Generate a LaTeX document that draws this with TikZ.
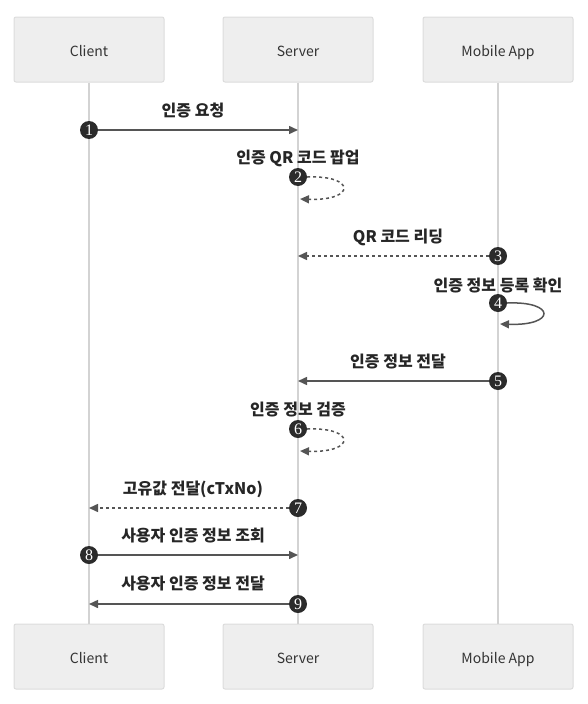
\documentclass[tikz,border=0pt]{standalone}
\usepackage{fontspec}
\setmainfont{Liberation Serif}
\newfontfamily\krfont{Noto Sans CJK KR}
\usetikzlibrary{arrows.meta}
\definecolor{boxfill}{HTML}{EEEEEE}
\definecolor{boxline}{HTML}{DCDCDC}
\definecolor{lifeline}{HTML}{D3D3D3}
\definecolor{msgline}{HTML}{555555}
\definecolor{stepfill}{HTML}{2B2B2B}

\begin{document}
\begin{tikzpicture}[
  x=1pt, y=-1pt,
  >={Triangle[length=9pt,width=8pt]},
  actor/.style={
    draw=boxline,
    line width=1pt,
    rounded corners=2pt,
    fill=boxfill,
    minimum width=150pt,
    minimum height=65pt,
    text height=13pt,
    text depth=0pt,
    font=\krfont\fontsize{14pt}{16pt}\selectfont,
    text=black!80
  },
  life/.style={draw=lifeline, line width=2pt},
  num/.style={
    circle,
    fill=stepfill,
    minimum size=18pt,
    inner sep=0pt,
    text=white,
    font=\fontsize{16pt}{16pt}\selectfont
  },
  lbl/.style={
    font=\krfont\bfseries\fontsize{16pt}{18pt}\selectfont,
    text=black!85,
    inner sep=0pt
  },
  msg/.style={->, draw=msgline, line width=1.5pt},
  reply/.style={msg, dash pattern=on 3pt off 3pt}
]
\useasboundingbox (0,0) rectangle (587,704);

% participants
\node[actor] (clientTop) at (89,49.5) {Client};
\node[actor] (serverTop) at (298,49.5) {Server};
\node[actor] (appTop) at (498,49.5) {Mobile App};
\node[actor] (clientBot) at (89,656.5) {Client};
\node[actor] (serverBot) at (298,656.5) {Server};
\node[actor] (appBot) at (498,656.5) {Mobile App};

\draw[life] (clientTop.south) -- (clientBot.north);
\draw[life] (serverTop.south) -- (serverBot.north);
\draw[life] (appTop.south) -- (appBot.north);

% end points on the lifelines
\coordinate (s1) at (298,130);
\coordinate (s2) at (300,199);
\coordinate (s3) at (298,256);
\coordinate (a4) at (500,324);
\coordinate (s5) at (298,381);
\coordinate (s6) at (300,451);
\coordinate (c7) at (89,508);
\coordinate (s8) at (298,555);
\coordinate (c9) at (89,604);

% steps
\node[num] (n1) at (89,130) {1};
\node[num] (n2) at (298,177) {2};
\node[num] (n3) at (498,256) {3};
\node[num] (n4) at (498,303) {4};
\node[num] (n5) at (498,381) {5};
\node[num] (n6) at (298,429) {6};
\node[num] (n7) at (298,508) {7};
\node[num] (n8) at (89,555) {8};
\node[num] (n9) at (298,604) {9};

% labels
\node[lbl] (l1) at (193,110) {인증 요청};
\node[lbl] (l2) at (298,158) {인증 QR 코드 팝업};
\node[lbl] (l3) at (398,237) {QR 코드 리딩};
\node[lbl] (l4) at (498,285) {인증 정보 등록 확인};
\node[lbl] (l5) at (398,362) {인증 정보 전달};
\node[lbl] (l6) at (298,410) {인증 정보 검증};
\node[lbl] (l7) at (193,489) {고유값 전달(cTxNo)};
\node[lbl] (l8) at (193,536) {사용자 인증 정보 조회};
\node[lbl] (l9) at (193,584) {사용자 인증 정보 전달};

% messages
\draw[msg] (n1) -- (s1);
\draw[reply] (n2.east) .. controls (356,175) and (356,201) .. (s2);
\draw[reply] (n3) -- (s3);
\draw[msg] (n4.east) .. controls (556,301) and (556,326) .. (a4);
\draw[msg] (n5) -- (s5);
\draw[reply] (n6.east) .. controls (356,427) and (356,453) .. (s6);
\draw[reply] (n7) -- (c7);
\draw[msg] (n8) -- (s8);
\draw[msg] (n9) -- (c9);
\end{tikzpicture}
\end{document}
